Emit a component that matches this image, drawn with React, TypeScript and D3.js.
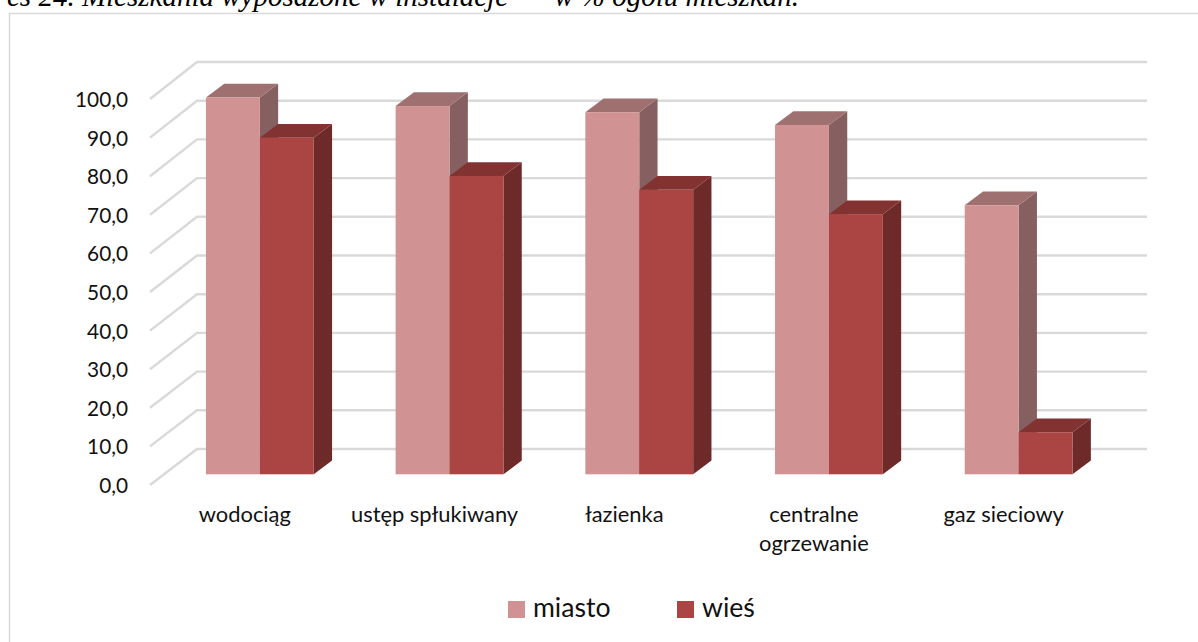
import React from "react";
import * as d3 from "d3";

const categories = ["wodociąg", "ustęp spłukiwany", "łazienka", "centralne|ogrzewanie", "gaz sieciowy"];
const miasto = [97.6, 95.4, 93.8, 90.5, 69.7];
const wies = [87.2, 77.3, 73.7, 67.4, 10.9];
const ticks = [0, 10, 20, 30, 40, 50, 60, 70, 80, 90, 100];
const seriesNames = ["miasto", "wieś"];
const seriesColors = [
  { front: "#d09292", top: "#9f7070", side: "#866060" },
  { front: "#aa4543", top: "#813231", side: "#6d2a29" },
];
const titleLeft = "es 24. Mieszkania wyposażone w instalacje";
const titleRight = "w % ogółu mieszkań.";

const W = 1198, H = 642;
const FONT = "Lato, Carlito, sans-serif";
const ink = "#111";

export default function App() {
  // front edge of the wall, back wall, and the plane where the bar fronts stand
  const yFront = d3.scaleLinear().domain([0, 100]).range([485, 99]);
  const yBack = d3.scaleLinear().domain([0, 100]).range([449, 62]);
  const yBar = d3.scaleLinear().domain([0, 100]).range([474.3, 88.3]);
  const band = d3.scaleBand().domain(categories).range([165, 1113.5]).paddingInner(82 / 190).paddingOuter(41 / 190);
  const x0 = 150, xb0 = 197, xb1 = 1147;
  const ddx = 18.3, ddy = 13.7;
  const bw = band.bandwidth() / 2;

  const box = (x: number, v: number, c: typeof seriesColors[0], key: string) => {
    const t = yBar(v), b = yBar(0);
    return (
      <g key={key}>
        <polygon points={`${x + bw},${t} ${x + bw + ddx},${t - ddy} ${x + bw + ddx},${b - ddy} ${x + bw},${b}`} fill={c.side} />
        <polygon points={`${x},${t} ${x + ddx},${t - ddy} ${x + bw + ddx},${t - ddy} ${x + bw},${t}`} fill={c.top} />
        <rect x={x} y={t} width={bw} height={b - t} fill={c.front} />
      </g>
    );
  };

  return (
    <svg width={W} height={H} viewBox={`0 0 ${W} ${H}`} style={{ position: "absolute", left: 0, top: 0, background: "#fff" }}>
      <g fontFamily="'Liberation Serif', serif" fontStyle="italic" fontSize={29} fill="#000">
        <text x={7} y={6}>{titleLeft}</text>
        <text x={799} y={6} textAnchor="end">{titleRight}</text>
      </g>
      <path d={`M9.5,${H} V13.5 H${W}`} fill="none" stroke="#d9d9d9" strokeWidth={1.5} />

      {ticks.map((t) => (
        <g key={t}>
          <polyline points={`${x0},${yFront(t)} ${xb0},${yBack(t)} ${xb1},${yBack(t)}`} fill="none" stroke="#d9d9d9" strokeWidth={2.4} />
          <text x={128} y={yFront(t) + 8} textAnchor="end" fontFamily={FONT} fontSize={20.8} fill={ink}>
            {t.toFixed(1).replace(".", ",")}
          </text>
        </g>
      ))}

      {categories.map((cat, i) => {
        const x = band(cat)!;
        return (
          <g key={cat}>
            {box(x, miasto[i], seriesColors[0], "m")}
            {box(x + bw, wies[i], seriesColors[1], "w")}
            {cat.split("|").map((line, j) => (
              <text key={line} x={x + bw - 15} y={522 + j * 28.5} textAnchor="middle" fontFamily={FONT} fontSize={21.9} fill={ink}>{line}</text>
            ))}
          </g>
        );
      })}

      {seriesNames.map((s, i) => {
        const sx = [508, 677][i];
        return (
          <g key={s}>
            <rect x={sx} y={601} width={17} height={17} fill={seriesColors[i].front} />
            <text x={sx + 25} y={617} fontFamily={FONT} fontSize={26.6} fill={ink}>{s}</text>
          </g>
        );
      })}
    </svg>
  );
}
